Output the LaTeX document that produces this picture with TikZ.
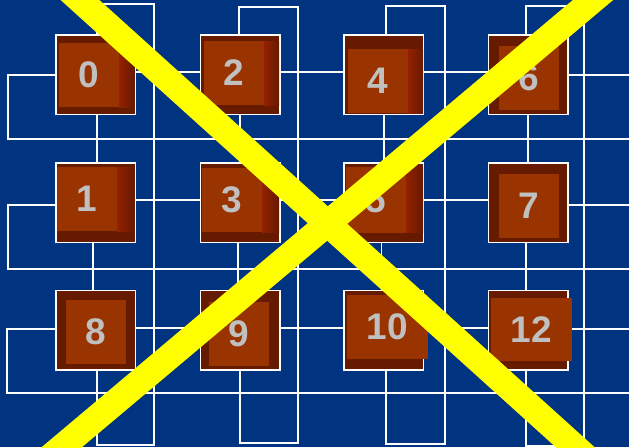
\documentclass[tikz,border=0pt]{standalone}
\usepackage{fontspec}
\setmainfont{Liberation Sans}
\definecolor{bgblue}{RGB}{0,51,128}
\definecolor{boxdark}{RGB}{102,26,0}
\definecolor{coreor}{RGB}{153,51,0}
\definecolor{glow}{RGB}{158,34,0}
\definecolor{digit}{RGB}{192,192,192}
\definecolor{xyellow}{RGB}{255,255,0}
\begin{document}
\begin{tikzpicture}[x=1pt,y=-1pt,
  wire/.style={draw=white,line width=1.4pt},
  pbox/.style={draw=white,line width=1.5pt,fill=boxdark,minimum width=79.5pt,minimum height=79.5pt,inner sep=0pt,outer sep=0pt},
  core/.style={fill=coreor,inner sep=0pt,text=digit,font=\fontsize{37}{37}\selectfont\bfseries},
  glowstrip/.style={left color=glow!80!boxdark,middle color=glow,right color=boxdark},
  cross/.style={draw=xyellow,line width=26pt}]
\useasboundingbox (0,0) rectangle (629,447);
\clip (0,0) rectangle (629,447);
\fill[bgblue] (0,0) rectangle (629,447);

% wrap-around corner points
\coordinate (c0t) at (154,4);   \coordinate (c0b) at (154,445);
\coordinate (c1t) at (298,7);   \coordinate (c1b) at (298,443);
\coordinate (c2t) at (445,6);   \coordinate (c2b) at (445,444);
\coordinate (c3t) at (584,6);   \coordinate (c3b) at (584,446);
\coordinate (r0l) at (8,139);   \coordinate (r0r) at (629,139);  \coordinate (r0e) at (629,75);
\coordinate (r1l) at (8,269);   \coordinate (r1r) at (629,269);  \coordinate (r1e) at (629,205);
\coordinate (r2l) at (7,393);   \coordinate (r2r) at (629,393);  \coordinate (r2e) at (629,329);

% boxes
\node[pbox] (b0)  at (95.5,74.5) {};
\node[pbox] (b2)  at (240,74.5) {};
\node[pbox] (b4)  at (383.5,74.5) {};
\node[pbox] (b6)  at (528,74.5) {};
\node[pbox] (b1)  at (95.5,202.5) {};
\node[pbox] (b3)  at (240,202.5) {};
\node[pbox] (b5)  at (383.5,202.5) {};
\node[pbox] (b7)  at (528,202.5) {};
\node[pbox] (b8)  at (95.5,330) {};
\node[pbox] (b9)  at (240,330) {};
\node[pbox] (b10) at (383.5,330) {};
\node[pbox] (b12) at (528,330) {};

% column links
\draw[wire] ([xshift=1.5pt]b0.north) |- (c0t) -- (c0b) -| ([xshift=1.5pt]b8.south);
\draw[wire] ([xshift=1.5pt]b0.south) -- ([xshift=1.5pt]b1.north);
\draw[wire] ([xshift=-2.5pt]b1.south) -- ([xshift=-2.5pt]b8.north);
\draw[wire] ([xshift=-1pt]b2.north) |- (c1t) -- (c1b) -| (b9.south);
\draw[wire] (b2.south) -- (b3.north);
\draw[wire] ([xshift=-2pt]b3.south) -- ([xshift=-2pt]b9.north);
\draw[wire] ([xshift=2.5pt]b4.north) |- (c2t) -- (c2b) -| ([xshift=2.5pt]b10.south);
\draw[wire] ([xshift=0.5pt]b4.south) -- ([xshift=0.5pt]b5.north);
\draw[wire] ([xshift=-2pt]b5.south) -- ([xshift=-2pt]b10.north);
\draw[wire] ([xshift=-2pt]b6.north) |- (c3t) -- (c3b) -| ([xshift=-2pt]b12.south);
\draw[wire] (b6.south) -- (b7.north);
\draw[wire] ([xshift=-2pt]b7.south) -- ([xshift=-2pt]b12.north);

% row links
\draw[wire] ([yshift=2.5pt]b0.east) -- ([yshift=2.5pt]b2.west);
\draw[wire] ([yshift=2.5pt]b2.east) -- ([yshift=2.5pt]b4.west);
\draw[wire] ([yshift=2.5pt]b4.east) -- ([yshift=2.5pt]b6.west);
\draw[wire] ([yshift=-0.5pt]b0.west) -| (r0l) -- (r0r);
\draw[wire] ([yshift=-0.5pt]b6.east) -- (r0e);
\draw[wire] ([yshift=2.5pt]b1.east) -- ([yshift=2.5pt]b3.west);
\draw[wire] ([yshift=2.5pt]b3.east) -- ([yshift=2.5pt]b5.west);
\draw[wire] ([yshift=2.5pt]b5.east) -- ([yshift=2.5pt]b7.west);
\draw[wire] ([yshift=-2.5pt]b1.west) -| (r1l) -- (r1r);
\draw[wire] ([yshift=-2.5pt]b7.east) -- (r1e);
\draw[wire] ([yshift=2pt]b8.east) -- ([yshift=2pt]b9.west);
\draw[wire] ([yshift=2pt]b9.east) -- ([yshift=2pt]b10.west);
\draw[wire] ([yshift=2pt]b10.east) -- ([yshift=2pt]b12.west);
\draw[wire] ([yshift=1pt]b8.west) -| (r2l) -- (r2r);
\draw[wire] ([yshift=1pt]b12.east) -- (r2e);

% glow at the right side of some boxes
\shade[glowstrip] (119,43) rectangle (134.5,107);
\shade[glowstrip] (117,167) rectangle (134.5,231);
\shade[glowstrip] (264,41) rectangle (279,105);
\shade[glowstrip] (262,168) rectangle (279,232);
\shade[glowstrip] (408,49) rectangle (423,113);
\shade[glowstrip] (406,167) rectangle (423,232);

% inner squares with numbers
\node[core,minimum width=60pt,minimum height=64pt] (i0)  at (89,75)    {0};
\node[core,minimum width=60pt,minimum height=64pt] (i2)  at (234,73)   {2};
\node[core,minimum width=60pt,minimum height=64pt] (i4)  at (378,81)   {4};
\node[core,minimum width=60pt,minimum height=64pt] (i6)  at (529,78)   {6};
\node[core,minimum width=60pt,minimum height=64pt] (i1)  at (87,199)   {1};
\node[core,minimum width=60pt,minimum height=64pt] (i3)  at (232,200)  {3};
\node[core,minimum width=60pt,minimum height=66pt] (i5)  at (376,199.5) {5};
\node[core,minimum width=60pt,minimum height=64pt] (i7)  at (529,206)  {7};
\node[core,minimum width=60pt,minimum height=64pt] (i8)  at (96,332)   {8};
\node[core,minimum width=60pt,minimum height=64pt] (i9)  at (239,334)  {9};
\node[core,minimum width=81pt,minimum height=64pt] (i10) at (387.5,327) {10};
\node[core,minimum width=81pt,minimum height=63pt] (i12) at (531.5,329.5) {12};

% yellow cross
\coordinate (xa) at (30.5,-44.7);  \coordinate (xb) at (624.5,491.7);
\coordinate (xc) at (646.1,-44.7); \coordinate (xd) at (8.9,491.7);
\draw[cross] (xa) -- (xb);
\draw[cross] (xc) -- (xd);
\end{tikzpicture}
\end{document}
